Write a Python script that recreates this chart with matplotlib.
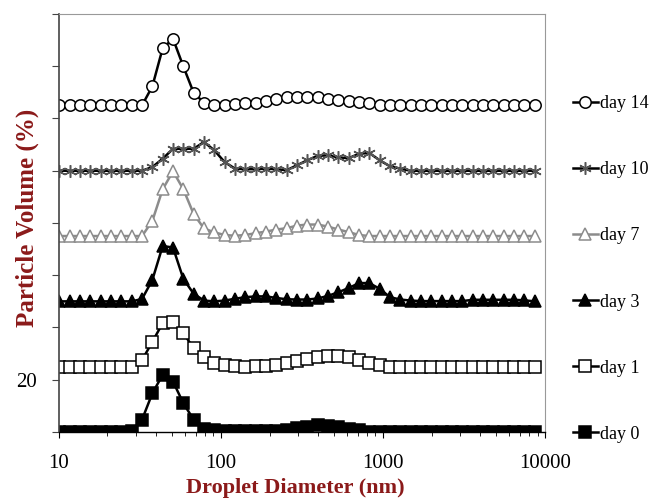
import numpy as np
import matplotlib
matplotlib.use("Agg")
import matplotlib.pyplot as plt

plt.rcParams["font.family"] = ["Liberation Serif", "DejaVu Serif"]

# size bins (nm) of the instrument, 10.1 .. 8635
sizes = [10.1, 11.7, 13.54, 15.69, 18.17, 21.04, 24.36, 28.21, 32.67, 37.84,
         43.82, 50.75, 58.77, 68.06, 78.82, 91.28, 105.7, 122.4, 141.8, 164.2,
         190.1, 220.2, 255.0, 295.3, 342.0, 396.1, 458.7, 531.2, 615.1, 712.4,
         825.0, 955.4, 1106, 1281, 1484, 1718, 1990, 2305, 2669, 3091,
         3580, 4145, 4801, 5560, 6439, 7456, 8635]

day0 = [0, 0, 0, 0, 0, 0, 0, 0.4, 4.7, 14.8,
        21.9, 19.3, 11.0, 4.7, 1.3, 0.6, 0.4, 0.3, 0.3, 0.3,
        0.3, 0.5, 0.8, 1.4, 2.0, 2.5, 2.4, 2.0, 1.3, 0.6,
        0.1, 0, 0, 0, 0, 0, 0, 0, 0, 0,
        0, 0, 0, 0, 0, 0, 0]
day1 = [0, 0, 0, 0, 0, 0, 0, 0, 2.5, 9.5,
        16.7, 17.1, 12.9, 7.0, 3.8, 1.5, 0.6, 0.3, 0, 0.15,
        0.3, 0.8, 1.5, 2.1, 2.8, 3.8, 4.1, 4.1, 3.6, 2.5,
        1.5, 0.6, 0, 0, 0, 0, 0, 0, 0, 0,
        0, 0, 0, 0, 0, 0, 0]
day3 = [0, 0, 0, 0, 0, 0, 0, 0, 0.9, 8.2,
        21.2, 20.6, 8.6, 2.9, 0.3, 0, 0.3, 1.0, 1.6, 1.9,
        1.9, 1.3, 0.8, 0.7, 0.7, 1.1, 2.1, 3.5, 5.1, 7.0,
        7.0, 4.8, 1.6, 0.7, 0.3, 0.1, 0.1, 0.1, 0.1, 0.1,
        0.6, 0.6, 0.6, 0.6, 0.6, 0.4, 0]
day7 = [0, 0, 0, 0, 0, 0, 0, 0, 0, 5.8,
        17.9, 24.8, 17.9, 8.4, 2.9, 1.4, 0.4, 0.1, 0.4, 1.1,
        1.7, 2.5, 3.0, 4.0, 4.4, 4.4, 3.6, 2.5, 1.5, 0.4,
        0, 0, 0, 0, 0, 0, 0, 0, 0, 0,
        0, 0, 0, 0, 0, 0, 0]
day10 = [0, 0, 0, 0, 0, 0, 0, 0, 0, 1.4,
         4.6, 8.4, 8.4, 8.4, 11.0, 7.8, 3.3, 0.8, 0.6, 0.6,
         0.8, 0.6, 0.2, 2.1, 4.0, 5.7, 5.9, 5.1, 4.8, 6.5,
         6.8, 4.0, 1.7, 0.8, 0, 0, 0, 0, 0, 0,
         0, 0, 0, 0, 0, 0, 0]
day14 = [0, 0, 0, 0, 0, 0, 0, 0, 0, 7.3,
         21.9, 25.5, 14.9, 4.8, 1.0, 0.3, 0.3, 0.5, 0.8, 1.1,
         1.7, 2.4, 3.1, 3.4, 3.4, 3.1, 2.5, 2.1, 1.6, 1.3,
         0.9, 0.3, 0, 0, 0, 0, 0, 0, 0, 0,
         0, 0, 0, 0, 0, 0, 0]

labels = ["day 0", "day 1", "day 3", "day 7", "day 10", "day 14"]
offsets = [0, 25, 50, 75, 100, 125]  # vertical stacking used in the original

series = [day0, day1, day3, day7, day10, day14]
styles = [
    dict(color="black", marker="s", mfc="black", mec="black", ms=8.2),
    dict(color="black", marker="s", mfc="white", mec="black", ms=8.2),
    dict(color="black", marker="^", mfc="black", mec="black", ms=8.2),
    dict(color="#8c8c8c", marker="^", mfc="white", mec="#8c8c8c", ms=8.2),
    dict(color="black", marker=(6, 2, 0), mfc="none", mec="#555555", ms=9),
    dict(color="black", marker="o", mfc="white", mec="black", ms=8.2),
]

fig = plt.figure(figsize=(6.57, 4.99), dpi=100)
ax = fig.add_axes([0.0893, 0.1343, 0.7402, 0.8377])

lines = []
for vals, off, lab, st in zip(series, offsets, labels, styles):
    y = np.array(vals) + off
    ln, = ax.plot(sizes, y, lw=1.8, mew=1.1, label=lab, **st)
    lines.append(ln)

ax.set_xscale("log")
ax.set_xlim(10, 10000)
ax.set_ylim(0, 160)

ax.set_xticks([10, 100, 1000, 10000])
ax.set_xticklabels(["10", "100", "1000", "10000"])
ax.set_yticks(np.arange(0, 161, 20))
ax.set_yticklabels(["", "20", "", "", "", "", "", "", ""])
ax.tick_params(axis="x", which="major", length=4, pad=12, labelsize=15)
ax.tick_params(axis="x", which="minor", length=3)
ax.tick_params(axis="y", length=5, pad=11, labelsize=15, color="#444444")

for side in ["top", "right"]:
    ax.spines[side].set_color("#999999")
ax.spines["left"].set_color("#444444")
ax.spines["left"].set_linewidth(1.2)
ax.spines["bottom"].set_linewidth(1.0)

red = "#8b1a1a"
ax.set_xlabel("Droplet Diameter (nm)", fontsize=16, fontweight="bold", color=red)
ax.set_ylabel("Particle Volume (%)", fontsize=18, fontweight="bold", color=red)
ax.xaxis.set_label_coords(0.486, -0.11)
ax.yaxis.set_label_coords(-0.04, 0.512)

leg = ax.legend(lines[::-1], labels[::-1], loc="center left",
                bbox_to_anchor=(1.058, 0.39), frameon=False, fontsize=13,
                labelspacing=2.72, handlelength=1.35, handletextpad=0.15,
                borderpad=0, borderaxespad=0)

fig.savefig("out.png", dpi=100)
